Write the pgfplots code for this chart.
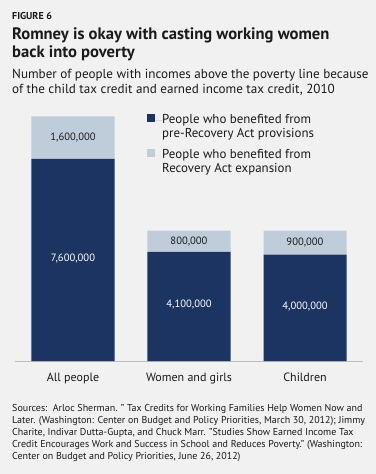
\documentclass[border=0pt]{standalone}
\usepackage{fontspec}
\setmainfont{PT Sans}
\usepackage{pgfplots}
\usepackage{pgfplotstable}
\pgfplotsset{compat=1.18}
\definecolor{bg}{HTML}{F1F1F1}
\definecolor{navy}{HTML}{1C3461}
\definecolor{lightblue}{HTML}{BFCDDB}
\definecolor{axgray}{HTML}{BDBDBD}
\definecolor{txt}{HTML}{1A1A1A}
\pgfplotstableread{
x pre exp prelab explab
0 7.6 1.6 7,600,000 1,600,000
1 4.1 0.8 4,100,000 800,000
2 4.0 0.9 4,000,000 900,000
}\data
\begin{document}
\begin{tikzpicture}
\fill[bg] (0bp,0bp) rectangle (376bp,-474bp);
\node[anchor=base west,inner sep=0,font=\fontsize{10bp}{11bp}\selectfont\bfseries,text=txt] at (12bp,-19.3bp) {FIGURE 6};
\node[anchor=base west,inner sep=0,font=\fontsize{16.6bp}{17bp}\selectfont\bfseries,text=txt] at (12bp,-39.3bp) {Romney is okay with casting working women};
\node[anchor=base west,inner sep=0,font=\fontsize{16.6bp}{17bp}\selectfont\bfseries,text=txt] at (12bp,-57bp) {back into poverty};
\node[anchor=base west,inner sep=0,font=\fontsize{13.1bp}{14bp}\selectfont,text=txt] at (12bp,-78.7bp) {Number of people with incomes above the poverty line because};
\node[anchor=base west,inner sep=0,font=\fontsize{13.1bp}{14bp}\selectfont,text=txt] at (12bp,-93bp) {of the child tax credit and earned income tax credit, 2010};
\begin{axis}[
  at={(15bp,-361bp)}, anchor=south west,
  scale only axis, width=348bp, height=266bp,
  xmin=-0.5, xmax=2.5, ymin=0, ymax=10,
  ybar stacked, bar width=83bp,
  axis y line=none,
  axis x line*=bottom,
  x axis line style={draw=axgray, line width=0.8pt, -},
  xtick=data, xticklabels={All people,Women and girls,Children},
  major tick length=0pt,
  xticklabel style={font=\fontsize{12bp}{14bp}\selectfont, text=txt, anchor=base, yshift=-20bp},
  legend style={at={(0.3793,0.9305)}, anchor=north west, draw=none, fill=none,
    font=\fontsize{12.9bp}{14bp}\selectfont, text=txt, row sep=0pt, column sep=0pt,
    inner sep=0pt, nodes={inner sep=0pt, text height=9.5bp, text depth=4.5bp}},
  legend cell align=left,
  legend image code/.code={\fill[#1] (0bp,-1bp) rectangle (8bp,7bp); \path (0bp,0bp) -- (15bp,0bp);},
  nodes near coords,
  point meta=explicit symbolic,
]
\addplot[fill=navy, draw=none,
  nodes near coords style={anchor=center, text=white, font=\fontsize{10.6bp}{13bp}\selectfont, yshift=1.5bp}]
  table[x=x, y=pre, meta=prelab] {\data};
\addlegendentry{People who benefited from}
\addlegendimage{empty legend}
\addlegendentry[text depth=11.5bp]{pre-Recovery Act provisions}
\addplot[fill=lightblue, draw=none,
  nodes near coords style={anchor=center, text=txt, font=\fontsize{10.6bp}{13bp}\selectfont}]
  table[x=x, y=exp, meta=explab] {\data};
\addlegendentry{People who benefited from}
\addlegendimage{empty legend}
\addlegendentry{Recovery Act expansion}
\end{axis}
\begin{scope}[every node/.style={anchor=base west,inner sep=0,font=\fontsize{10bp}{11bp}\selectfont,text=txt}]
\node at (12bp,-411bp) {Sources:\ \ Arloc Sherman. " Tax Credits for Working Families Help Women Now and};
\node at (12bp,-423bp) {Later. (Washington: Center on Budget and Policy Priorities, March 30, 2012); Jimmy};
\node at (12bp,-435bp) {Charite, Indivar Dutta-Gupta, and Chuck Marr. "Studies Show Earned Income Tax};
\node at (12bp,-447bp) {Credit Encourages Work and Success in School and Reduces Poverty." (Washington:};
\node at (12bp,-459bp) {Center on Budget and Policy Priorities, June 26, 2012)};
\end{scope}
\end{tikzpicture}
\end{document}
